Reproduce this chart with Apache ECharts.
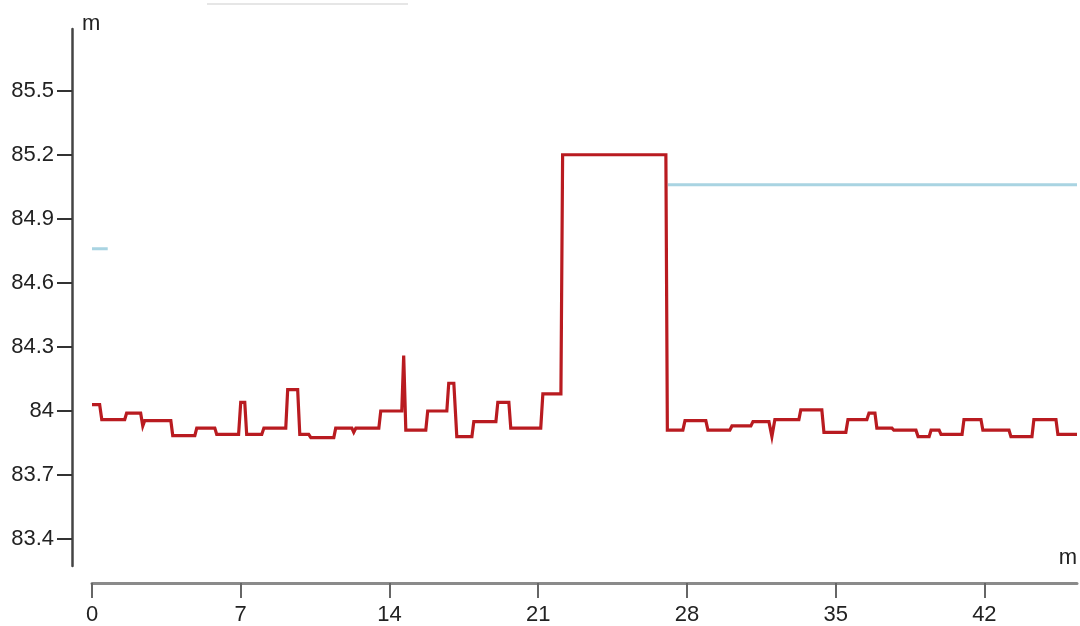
<!DOCTYPE html>
<html>
<head>
<meta charset="utf-8">
<script src="https://cdn.jsdelivr.net/npm/echarts@6/dist/echarts.min.js"></script>
<style>
html,body{margin:0;padding:0;background:#fff;}
#chart{width:1080px;height:626px;}
</style>
</head>
<body>
<div id="chart"></div>
<script>
// Red profile (x in m, elevation in m)
const redX = [0, 0.36, 0.46, 1.54, 1.63, 2.29, 2.39, 2.48, 3.71, 3.80, 4.84, 4.93, 5.78, 5.87, 6.90, 7.00, 7.19, 7.28, 7.99, 8.09, 9.12, 9.21, 9.68, 9.78, 10.20, 10.30, 11.38, 11.47, 12.23, 12.32, 12.42, 13.50, 13.59, 14.58, 14.67, 14.77, 15.71, 15.80, 16.70, 16.79, 17.03, 17.17, 17.88, 17.97, 19.01, 19.10, 19.62, 19.71, 21.12, 21.22, 22.07, 22.15, 27.01, 27.08, 27.81, 27.91, 28.89, 28.99, 30.02, 30.12, 31.01, 31.11, 31.86, 32.00, 32.14, 33.27, 33.36, 34.35, 34.45, 35.48, 35.58, 36.47, 36.57, 36.85, 36.94, 37.65, 37.74, 38.78, 38.88, 39.40, 39.49, 39.87, 39.96, 40.95, 41.04, 41.84, 41.93, 43.16, 43.25, 44.24, 44.33, 45.37, 45.46, 46.36];
const redY = [84.03, 84.03, 83.96, 83.96, 83.99, 83.99, 83.93, 83.955, 83.955, 83.885, 83.885, 83.92, 83.92, 83.89, 83.89, 84.04, 84.04, 83.89, 83.89, 83.92, 83.92, 84.1, 84.1, 83.89, 83.89, 83.875, 83.875, 83.92, 83.92, 83.90, 83.92, 83.92, 84.0, 84.0, 84.26, 83.91, 83.91, 84.0, 84.0, 84.13, 84.13, 83.88, 83.88, 83.95, 83.95, 84.04, 84.04, 83.92, 83.92, 84.08, 84.08, 85.2, 85.2, 83.91, 83.91, 83.955, 83.955, 83.91, 83.91, 83.93, 83.93, 83.95, 83.95, 83.88, 83.96, 83.96, 84.005, 84.005, 83.9, 83.9, 83.96, 83.96, 83.99, 83.99, 83.92, 83.92, 83.91, 83.91, 83.88, 83.88, 83.91, 83.91, 83.89, 83.89, 83.96, 83.96, 83.91, 83.91, 83.88, 83.88, 83.96, 83.96, 83.89, 83.89];
// Light blue reference level (null = gap)
const blueX = [0, 0.74, 13, 27.11, 46.36];
const blueY = [84.76, 84.76, null, 85.06, 85.06];
const yTicks = [83.4, 83.7, 84, 84.3, 84.6, 84.9, 85.2, 85.5];
const xTicks = [0, 7, 14, 21, 28, 35, 42];

const redData = redX.map((x, i) => [x, redY[i]]);
const blueData = blueX.map((x, i) => [x, blueY[i] === null ? '-' : blueY[i]]);

const FONT = '"Liberation Sans", Arial, sans-serif';
const chart = echarts.init(document.getElementById('chart'), null, {renderer: 'canvas'});
chart.setOption({
  animation: false,
  backgroundColor: '#ffffff',
  grid: {left: 92, right: 3, top: 29, bottom: 57, containLabel: false},
  xAxis: {
    type: 'value', min: 0, max: 46.36, offset: 17,
    name: 'm', nameLocation: 'end', nameGap: 0,
    nameTextStyle: {color: '#222', fontSize: 22, fontFamily: FONT, align: 'right', verticalAlign: 'bottom', padding: [0, 0, 14, 0]},
    axisLine: {show: true, onZero: false, lineStyle: {color: '#8a8a8a', width: 3}},
    axisTick: {show: true, length: 15, inside: false, customValues: xTicks, lineStyle: {color: '#666', width: 2}},
    axisLabel: {show: true, customValues: xTicks, margin: 21, color: '#222', fontSize: 22, fontFamily: FONT},
    splitLine: {show: false}
  },
  yAxis: {
    type: 'value', min: 83.274, max: 85.789, offset: 20,
    name: 'm', nameLocation: 'end', nameGap: -6,
    nameTextStyle: {color: '#222', fontSize: 22, fontFamily: FONT, align: 'left', padding: [0, 0, 0, 10]},
    axisLine: {show: true, onZero: false, lineStyle: {color: '#444', width: 2.5}},
    axisTick: {show: true, length: 15, customValues: yTicks, lineStyle: {color: '#333', width: 2}},
    axisLabel: {show: true, customValues: yTicks, margin: 18, color: '#222', fontSize: 22, fontFamily: FONT,
      formatter: v => String(Math.round(v * 10) / 10)},
    splitLine: {show: false}
  },
  graphic: [{
    type: 'line', shape: {x1: 207, y1: 4, x2: 408, y2: 4},
    style: {stroke: '#e6e6e6', lineWidth: 2}, silent: true
  }],
  series: [
    {type: 'line', data: blueData, showSymbol: false, connectNulls: false,
     lineStyle: {color: '#a9d4e2', width: 3}, z: 2},
    {type: 'line', data: redData, showSymbol: false,
     lineStyle: {color: '#b91b20', width: 3.2, join: 'miter'}, z: 3}
  ]
});
</script>
</body>
</html>
